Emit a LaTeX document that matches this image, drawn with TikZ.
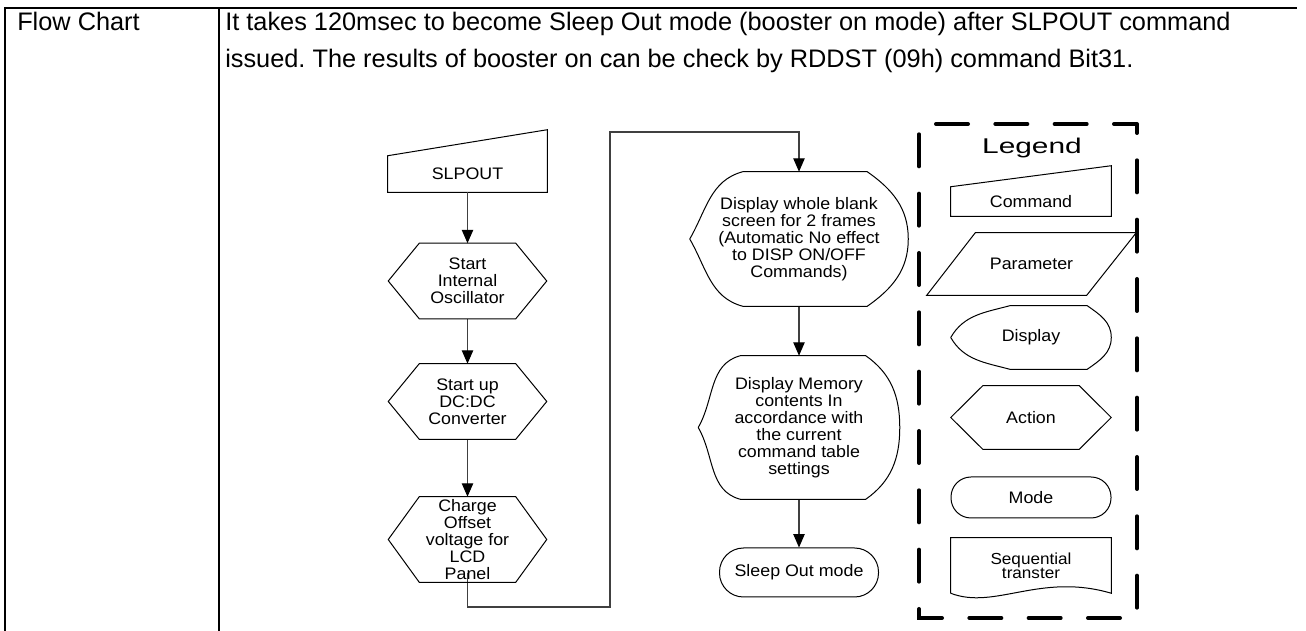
\documentclass[tikz,border=0pt]{standalone}
\usepackage{fontspec}
\setmainfont{Liberation Sans}
\newfontfamily\chartfont[FakeStretch=1.07]{Liberation Sans}
\newfontfamily\legendfont[FakeStretch=1.4]{Liberation Sans}
\usetikzlibrary{arrows.meta,calc}
\frenchspacing

\tikzset{
  head/.style={inner sep=0pt, anchor=base west, font={\fontsize{19}{27.75}\selectfont}},
  box/.style={inner sep=0pt, align=center, font={\chartfont\fontsize{12.5}{12.75}\selectfont}},
  outline/.style={draw=black, line width=0.75pt},
  mode/.style={box, draw=black, line width=0.75pt},
  link/.style={draw=black!75, line width=0.8pt},
}

\begin{document}
\begin{tikzpicture}[x=0.75pt, y=0.75pt, >={Triangle[length=10pt,width=8.5pt,color=black]}]
\useasboundingbox (0,0) rectangle (1306,631);
% --- Table ---
\draw[line width=1.5pt] (5,0) -- (5,623) -- (1297,623);
\draw[line width=1.5pt] (219,0) -- (219,623);
\node[head] (title) at (17,600) {Flow Chart};
\node[head] (intro) at (225,600) {It takes 120msec to become Sleep Out mode (booster on mode) after SLPOUT command};
\node[head] (introb) at (225,563) {issued. The results of booster on can be check by RDDST (09h) command Bit31.};
% --- First column ---
\node[box, minimum width=119.25pt, minimum height=27pt] (slpout) at (467.5,457) {SLPOUT};
\node[box, minimum width=118.5pt, minimum height=56.25pt] (osc) at (467.5,350) {Start\\Internal\\Oscillator};
\node[box, minimum width=118.5pt, minimum height=56.25pt] (conv) at (467.5,229.5) {Start up\\DC:DC\\Converter};
\node[box, minimum width=118.5pt, minimum height=63.75pt] (offset) at (467.5,91.5) {Charge\\Offset\\voltage for\\LCD\\Panel};
\draw[outline] (slpout.south west) -- (slpout.south east) -- ($(slpout.north east)+(0,26)$) -- (slpout.north west) -- cycle;
\draw[link,->] (slpout) -- (osc);
\draw[link,->] (osc) -- (conv);
\draw[link,->] (conv) -- (offset);
% --- Second column ---
\node[box, minimum width=163.5pt, minimum height=100.5pt] (disp1) at (799,392) {Display whole blank\\screen for 2 frames\\(Automatic No effect\\to DISP ON/OFF\\Commands)};
\node[box, minimum width=150.75pt, minimum height=107.25pt] (disp2) at (799,203.5) {Display Memory\\contents In\\accordance with\\the current\\command table\\settings};
\node[mode, minimum width=119.25pt, minimum height=36.75pt, rounded corners=18pt] (sleep) at (799,58.5) {Sleep Out mode};
\draw[link,->] (disp1) -- (disp2);
\draw[link,->] (disp2) -- (sleep);
% connector between the two columns
\coordinate (offsetout) at ($(offset.south)+(0,9)$);
\coordinate (lowbend) at (610,24);
\coordinate (highbend) at (610,499);
\draw[link,->] (offsetout) |- (lowbend) -- (highbend) -| (disp1.north);
% --- Legend ---
\draw[line width=3pt, line cap=round, dash pattern=on 24pt off 20.5pt, dash phase=17.25pt]
  (1137,507) -- (1137,13) -- (919,13) -- (919,507) -- cycle;
\node[inner sep=0pt, font={\legendfont\fontsize{16}{18}\selectfont}] (legendhead) at (1032,483) {Legend};
\node[box, minimum width=120pt, minimum height=21.75pt] (command) at (1031,429.5) {Command};
\node[box, minimum width=156.75pt, minimum height=46.5pt] (param) at (1031.5,367) {Parameter};
\node[box, minimum width=120pt, minimum height=47.25pt] (lgdisp) at (1031,293.5) {Display};
\node[box, minimum width=120pt, minimum height=47.25pt] (action) at (1031,213.5) {Action};
\node[mode, minimum width=120pt, minimum height=30.75pt, rounded corners=15pt] (lgmode) at (1031,133.5) {Mode};
\node[box, minimum width=120pt, minimum height=41.25pt, font={\chartfont\fontsize{12}{10.5}\selectfont}] (seq) at (1031,65.5) {Sequential\\transter};
\draw[outline] (command.south west) -- (command.south east) -- ($(command.north east)+(0,21)$) -- (command.north west) -- cycle;
\draw[outline] (param.south west) -- ($(param.south west)+(160,0)$) -- (param.north east) -- ($(param.north east)+(-161,0)$) -- cycle;
\draw[outline] (seq.south west) -- (seq.north west) -- (seq.north east) -- (seq.south east) .. controls ($(seq.south east)+(-71,21)$) and ($(seq.south west)+(44,-17)$) .. (seq.south west);
% hexagons and display shapes
\foreach \n/\c in {osc/31,conv/31,offset/31,action/32}
  {\draw[outline] (\n.west) -- ($(\n.north west)+(\c,0)$) -- ($(\n.north east)+(-\c,0)$) -- (\n.east) -- ($(\n.south east)+(-\c,0)$) -- ($(\n.south west)+(\c,0)$) -- cycle;}
\foreach \n/\a/\b in {disp1/53/41,disp2/42/34,lgdisp/59/24}
  {\draw[outline] (\n.west) to[out=60,in=195] ($(\n.north west)+(\a,0)$) -- ($(\n.north east)+(-\b,0)$) to[out=-35,in=90] (\n.east) to[out=-90,in=35] ($(\n.south east)+(-\b,0)$) -- ($(\n.south west)+(\a,0)$) to[out=165,in=-60] (\n.west);}
\end{tikzpicture}
\end{document}
